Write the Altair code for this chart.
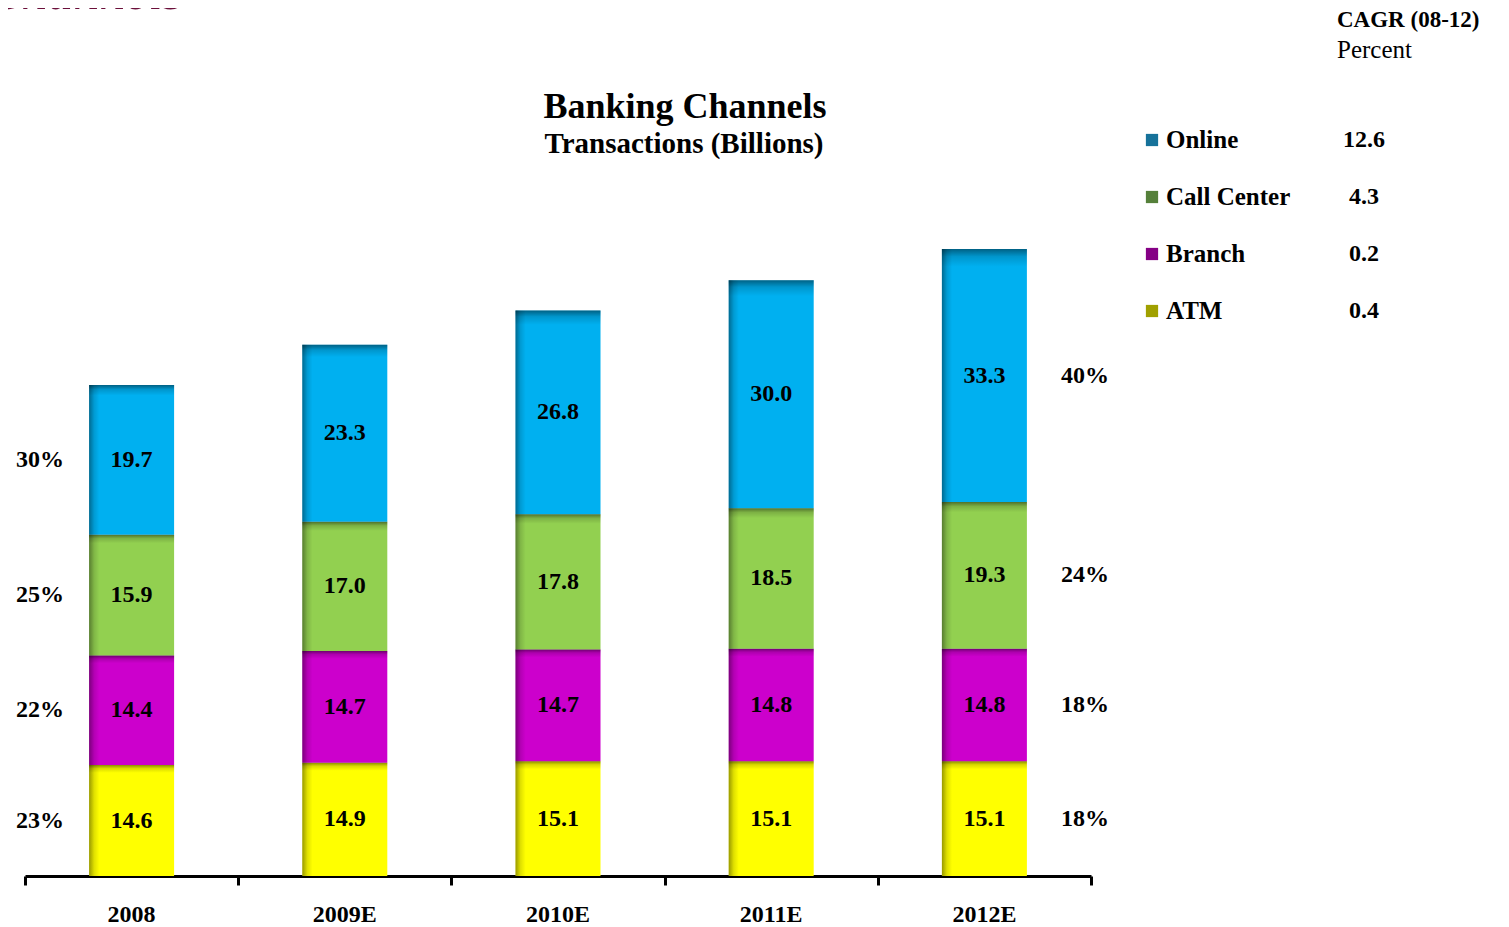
import altair as alt
import pandas as pd

# ---- data ----
years = ["2008", "2009E", "2010E", "2011E", "2012E"]
series_names = ["ATM", "Branch", "Call Center", "Online"]
atm = [14.6, 14.9, 15.1, 15.1, 15.1]
branch = [14.4, 14.7, 14.7, 14.8, 14.8]
call_center = [15.9, 17.0, 17.8, 18.5, 19.3]
online = [19.7, 23.3, 26.8, 30.0, 33.3]
bar_colors = ["#ffff00", "#cc00cc", "#92d050", "#00b0f0"]
left_share = ["23%", "22%", "25%", "30%"]     # 2008 mix, bottom to top
right_share = ["18%", "18%", "24%", "40%"]    # 2012E mix, bottom to top

legend_names = ["Online", "Call Center", "Branch", "ATM"]
legend_colors = ["#16729a", "#55803a", "#850085", "#a0a000"]
cagr = ["12.6", "4.3", "0.2", "0.4"]

rows = []
series_vals = [atm, branch, call_center, online]
for i, yr in enumerate(years):
    for k, s in enumerate(series_names):
        rows.append({
            "year": yr, "idx": i, "series": s, "ord": k,
            "value": series_vals[k][i],
            "share_first": left_share[k] if i == 0 else "",
            "share_last": right_share[k] if i == len(years) - 1 else "",
        })
df = pd.DataFrame(rows)

legend_df = pd.DataFrame({
    "name": legend_names, "swatch": legend_colors, "cagr": cagr,
    "row": list(range(len(legend_names))),
})
years_df = pd.DataFrame({"year": years, "idx": list(range(len(years)))})

# ---- layout ----
W, H = 1066, 776
PX_PER_UNIT = 7.6
YMAX = H / PX_PER_UNIT
FONT = "Liberation Serif"

xs = alt.Scale(domain=[0, len(years)], nice=False, zero=False, padding=0)
ys = alt.Scale(domain=[0, YMAX], nice=False, zero=True)
xaxis = alt.Axis(values=list(range(len(years) + 1)), labels=False, title=None,
                 grid=False, domainColor="black", domainWidth=3,
                 tickColor="black", tickWidth=3, tickSize=9)
xenc = alt.X("pos:Q", scale=xs, axis=xaxis)

base = (
    alt.Chart(df)
    .transform_stack(stack="value", groupby=["year"],
                     sort=[alt.SortField("ord", order="ascending")],
                     as_=["v0", "v1"])
    .transform_calculate(pos="datum.idx + 0.5", mid="(datum.v0 + datum.v1) / 2")
)

bars = base.mark_bar(size=85).encode(
    x=xenc,
    y=alt.Y("v1:Q", scale=ys, axis=None),
    y2="v0:Q",
    color=alt.Color("series:N", scale=alt.Scale(domain=series_names, range=bar_colors), legend=None),
)

left_grad = alt.LinearGradient(
    gradient="linear", x1=0, x2=1, y1=0, y2=0,
    stops=[alt.GradientStop(color="rgba(0,0,0,0.40)", offset=0),
           alt.GradientStop(color="rgba(0,0,0,0.12)", offset=0.06),
           alt.GradientStop(color="rgba(0,0,0,0)", offset=0.12),
           alt.GradientStop(color="rgba(0,0,0,0)", offset=1)],
)
top_grad = alt.LinearGradient(
    gradient="linear", x1=0, x2=0, y1=0, y2=1,
    stops=[alt.GradientStop(color="rgba(0,0,0,0.45)", offset=0),
           alt.GradientStop(color="rgba(0,0,0,0.15)", offset=0.03),
           alt.GradientStop(color="rgba(0,0,0,0)", offset=0.07),
           alt.GradientStop(color="rgba(0,0,0,0)", offset=1)],
)
shade_left = base.mark_bar(size=85, color=left_grad).encode(
    x=xenc, y=alt.Y("v1:Q", scale=ys, axis=None), y2="v0:Q")
shade_top = base.mark_bar(size=85, color=top_grad).encode(
    x=xenc, y=alt.Y("v1:Q", scale=ys, axis=None), y2="v0:Q")

txt = dict(font=FONT, fontWeight="bold", color="black", baseline="middle")
values_text = base.mark_text(fontSize=24, **txt).encode(
    x=xenc, y=alt.Y("mid:Q", scale=ys, axis=None),
    text=alt.Text("value:Q", format=".1f"))

left_text = base.transform_filter("datum.idx == 0").mark_text(fontSize=24, **txt).encode(
    x=alt.value(15), y=alt.Y("mid:Q", scale=ys, axis=None), text="share_first:N")
right_text = base.transform_filter(f"datum.idx == {len(years) - 1}").mark_text(fontSize=24, **txt).encode(
    x=alt.value(1060), y=alt.Y("mid:Q", scale=ys, axis=None), text="share_last:N")

year_text = alt.Chart(years_df).transform_calculate(pos="datum.idx + 0.5").mark_text(
    fontSize=24, **txt).encode(x=xenc, y=alt.value(815), text="year:N")

def label(s, x, y, size, weight="bold", align="center", color="black", style="normal", baseline="middle"):
    return alt.Chart(pd.DataFrame({"t": [s]})).mark_text(
        font=FONT, fontSize=size, fontWeight=weight, align=align, color=color,
        fontStyle=style, baseline=baseline,
    ).encode(x=alt.value(x), y=alt.value(y), text="t:N")

title1 = label("Banking Channels", 660, 7, 36)
title2 = label("Transactions (Billions)", 659, 44, 29)
corner = label("Banking Channels", 158, -91, 52, weight="normal", align="right",
               color="#6b0f3a", style="italic", baseline="alphabetic")
cagr_head = label("CAGR (08-12)", 1312, -80, 23, align="left")
cagr_sub = label("Percent", 1312, -50, 25, weight="normal", align="left")

main = alt.layer(bars, shade_left, shade_top, values_text, left_text, right_text,
                 year_text, title1, title2, corner, cagr_head, cagr_sub)

ly = alt.Y("row:Q", scale=alt.Scale(domain=[0, len(legend_names) - 1], range=[40, 211]), axis=None)
leg_sq = alt.Chart(legend_df).mark_square(size=150, filled=True, opacity=1).encode(
    x=alt.value(1127), y=ly, color=alt.Color("swatch:N", scale=None))
leg_lab = alt.Chart(legend_df).mark_text(fontSize=25, align="left", **txt).encode(
    x=alt.value(1141), y=ly, text="name:N")
leg_val = alt.Chart(legend_df).mark_text(fontSize=24, align="center", **txt).encode(
    x=alt.value(1339), y=ly, text="cagr:N")
legend = alt.layer(leg_sq, leg_lab, leg_val)

chart = (
    alt.layer(main, legend)
    .resolve_scale(y="independent")
    .properties(width=W, height=H,
                padding={"left": 17, "top": 92, "right": 410, "bottom": 50},
                autosize=alt.AutoSizeParams(type="none"))
    .configure_view(stroke=None)
)

chart.save("out.html", embed_options={"renderer": "svg", "actions": False})
